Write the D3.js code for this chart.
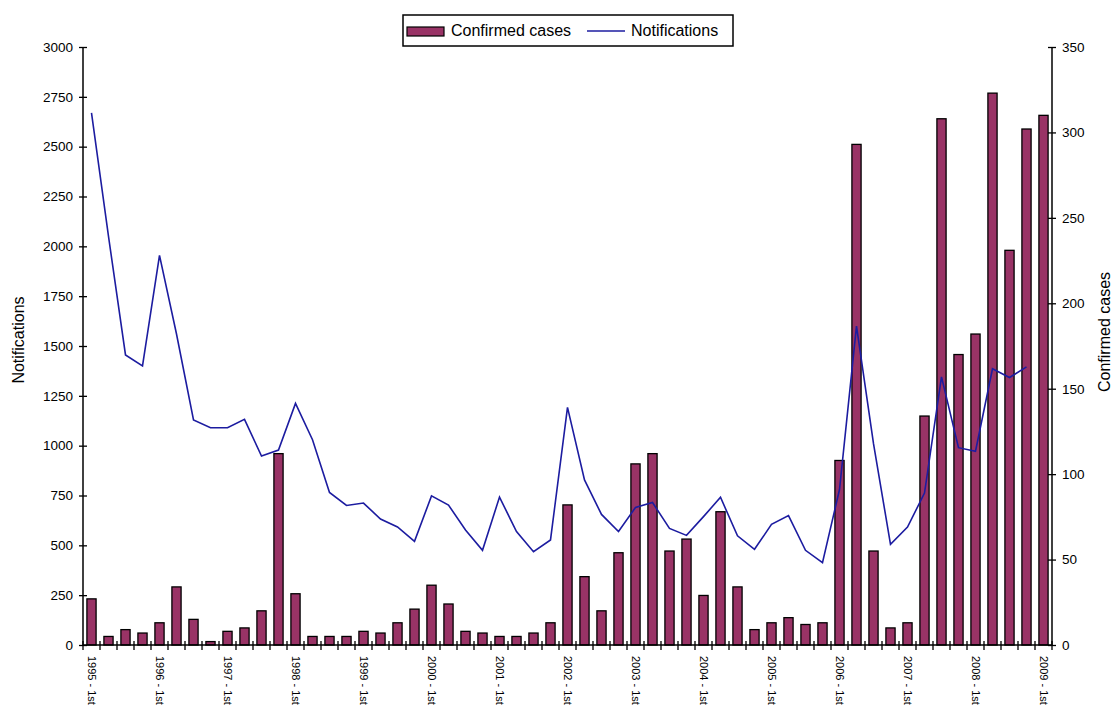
<!DOCTYPE html>
<head>
  <meta charset="utf-8">
  <script src="https://d3js.org/d3.v7.min.js"></script>
</head>
<body>
  <div id="chart"></div>

  <script>
    var width = 1116;
    var height = 713;

    // quarterly periods, 1995 Q1 to 2009 Q1
    var years = [1995, 1996, 1997, 1998, 1999, 2000, 2001, 2002, 2003, 2004, 2005, 2006, 2007, 2008, 2009];
    var quarters = ['1st', '2nd', '3rd', '4th'];

    var notifTicks = [0, 250, 500, 750, 1000, 1250, 1500, 1750, 2000, 2250, 2500, 2750, 3000];
    var casesTicks = [0, 50, 100, 150, 200, 250, 300, 350];

    // confirmed cases (bars, right axis), one per quarter
    var confirmed = [27, 5, 9, 7, 13, 34, 15, 2, 8, 10, 20, 112, 30, 5, 5, 5,
      8, 7, 13, 21, 35, 24, 8, 7, 5, 5, 7, 13, 82, 40, 20, 54,
      106, 112, 55, 62, 29, 78, 34, 9, 13, 16, 12, 13, 108, 293, 55, 10,
      13, 134, 308, 170, 182, 323, 231, 302, 310];

    // notifications (line, left axis) - stops at 2008 Q4
    var notifications = [2670, 2050, 1455, 1400, 1955, 1560, 1129, 1090, 1090, 1132, 948, 978, 1212, 1030, 765, 700,
      712, 632, 592, 520, 748, 702, 577, 475, 742, 569, 468, 527, 1192, 828, 655, 569,
      690, 715, 585, 550, 644, 741, 548, 480, 605, 649, 475, 413, 780, 1600, 1010, 505,
      592, 762, 1345, 990, 972, 1386, 1342, 1395];

    var periods = [];
    years.forEach(function(y) {
      quarters.forEach(function(q) {
        if (y < 2009 || q == '1st') periods.push(y + ' - ' + q);
      });
    });

    var margin = {left: 83, right: 64, top: 47, bottom: 68};
    var plotW = width - margin.left - margin.right;
    var plotH = height - margin.top - margin.bottom;

    var barColor = '#993366';
    var lineColor = '#1c1ca0';

    var svg = d3.select('#chart')
      .append('svg')
        .attr('width', width)
        .attr('height', height)
        .style('font-family', 'Arial, "Liberation Sans", sans-serif');

    var g = svg.append('g').attr('transform', 'translate(' + margin.left + ',' + margin.top + ')');

    var x = d3.scaleBand().domain(periods).range([0, plotW]).paddingInner(0.46).paddingOuter(0.23);
    var yL = d3.scaleLinear().domain([0, 3000]).range([plotH, 0]);
    var yR = d3.scaleLinear().domain([0, 350]).range([plotH, 0]);

    // bars
    g.append('g')
      .selectAll('rect')
      .data(confirmed)
      .join('rect')
        .attr('x', (d, i) => x(periods[i]))
        .attr('y', d => yR(d))
        .attr('width', x.bandwidth())
        .attr('height', d => plotH - yR(d))
        .attr('fill', barColor)
        .attr('stroke', '#000')
        .attr('stroke-width', 1.3);

    // line
    var line = d3.line()
      .x((d, i) => x(periods[i]) + x.bandwidth() / 2)
      .y(d => yL(d));

    g.append('path')
      .datum(notifications)
      .attr('d', line)
      .attr('fill', 'none')
      .attr('stroke', lineColor)
      .attr('stroke-width', 1.6);

    // left axis
    var left = g.append('g')
      .call(d3.axisLeft(yL).tickValues(notifTicks).tickFormat(d3.format('d')).tickSize(4));
    left.select('.domain').attr('stroke-width', 1.5).attr('d', 'M0,0V' + plotH);
    left.selectAll('.tick line').attr('x1', 4).attr('x2', -4).attr('stroke-width', 1.3);
    left.selectAll('.tick text').attr('x', -10).style('font-size', '13.5px').attr('fill', '#000');

    // right axis
    var right = g.append('g')
      .attr('transform', 'translate(' + plotW + ',0)')
      .call(d3.axisRight(yR).tickValues(casesTicks).tickFormat(d3.format('d')).tickSize(4));
    right.select('.domain').attr('stroke-width', 1.5).attr('d', 'M0,0V' + plotH);
    right.selectAll('.tick line').attr('x1', -4).attr('x2', 4).attr('stroke-width', 1.3);
    right.selectAll('.tick text').attr('x', 10).style('font-size', '13.5px').attr('fill', '#000');

    // bottom axis: ticks between quarters, labels on first quarters
    var step = x.step();
    var x0 = x(periods[0]) - (step - x.bandwidth()) / 2;
    var bounds = d3.range(periods.length + 1).map(i => x0 + i * step);
    var bottom = g.append('g').attr('transform', 'translate(0,' + plotH + ')');
    bottom.append('line')
      .attr('x1', 0).attr('x2', plotW)
      .attr('stroke', '#000').attr('stroke-width', 1.5);
    bottom.selectAll('.qtick')
      .data(bounds)
      .join('line')
        .attr('class', 'qtick')
        .attr('x1', d => d).attr('x2', d => d)
        .attr('y1', -4).attr('y2', 5)
        .attr('stroke', '#000').attr('stroke-width', 1.3);
    bottom.selectAll('.qlabel')
      .data(periods.filter(p => p.indexOf('1st') > 0))
      .join('text')
        .attr('class', 'qlabel')
        .attr('transform', d => 'translate(' + (x(d) + x.bandwidth() / 2) + ',11) rotate(90)')
        .attr('dy', '0.35em')
        .style('font-size', '11px')
        .text(d => d);

    // axis titles
    svg.append('text')
      .attr('transform', 'translate(24,340) rotate(-90)')
      .attr('text-anchor', 'middle')
      .style('font-size', '16px')
      .text('Notifications');

    svg.append('text')
      .attr('transform', 'translate(1110,332) rotate(-90)')
      .attr('text-anchor', 'middle')
      .style('font-size', '16px')
      .text('Confirmed cases');

    // legend
    var lg = svg.append('g').attr('transform', 'translate(403,15)');
    lg.append('rect')
      .attr('width', 330).attr('height', 31)
      .attr('fill', '#fff').attr('stroke', '#000').attr('stroke-width', 1.5);
    lg.append('rect')
      .attr('x', 4).attr('y', 12).attr('width', 37).attr('height', 9)
      .attr('fill', barColor).attr('stroke', '#000').attr('stroke-width', 1.2);
    lg.append('text')
      .attr('x', 48).attr('y', 21)
      .style('font-size', '16px')
      .text('Confirmed cases');
    lg.append('line')
      .attr('x1', 184).attr('x2', 222).attr('y1', 16).attr('y2', 16)
      .attr('stroke', lineColor).attr('stroke-width', 1.6);
    lg.append('text')
      .attr('x', 228).attr('y', 21)
      .style('font-size', '16px')
      .text('Notifications');
  </script>
</body>

<style>
  body {
    margin: 0;
    background-color: #fff;
  }
</style>
